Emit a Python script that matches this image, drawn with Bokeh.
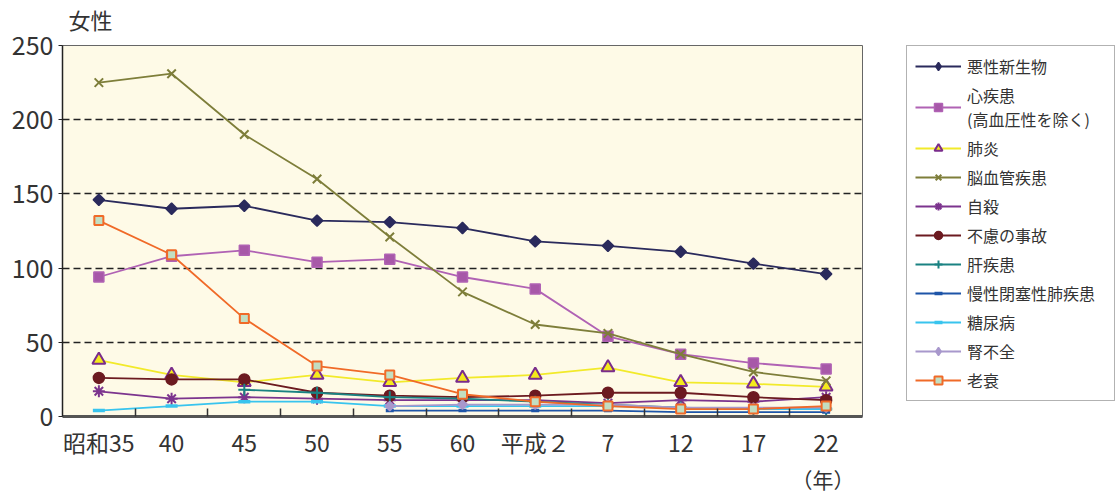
import math
from bokeh.plotting import figure
from bokeh.layouts import row
from bokeh.models import Range1d, FixedTicker, Legend, LegendItem, Title
from bokeh.embed import file_html
from bokeh.resources import INLINE

# Survey years (Showa 35 ... Heisei 22)
years = ["昭和35", "40", "45", "50", "55", "60", "平成２", "7", "12", "17", "22"]

# Female death rates by cause (per 100,000)
malignant = [146, 140, 142, 132, 131, 127, 118, 115, 111, 103, 96]
heart = [94, 108, 112, 104, 106, 94, 86, 54, 42, 36, 32]
pneumonia = [38, 28, 23, 28, 23, 26, 28, 33, 23, 22, 20]
stroke = [225, 231, 190, 160, 121, 84, 62, 56, 42, 30, 24]
suicide = [17, 12, 13, 12, 11, 11, 11, 9, 11, 10, 13]
accident = [26, 25, 25, 16, 14, 13, 14, 16, 16, 13, 11]
liver = [18, 16, 13, 12, 10, 8, 6, 5, 5]          # from 昭和45
copd = [4, 4, 4, 4, 3, 3, 3]                       # from 昭和55
diabetes = [4, 7, 10, 10, 7, 7, 7, 7, 6, 5, 5]
renal = [7, 8, 8, 8, 6, 6, 6]                      # from 昭和55
senility = [132, 109, 66, 34, 28, 15, 10, 7, 5, 5, 7]

FONT = "Noto Sans CJK JP"
TXT = "#333333"

xs = [i + 0.5 for i in range(len(years))]

p = figure(width=906, height=493, output_backend="svg", toolbar_location=None,
           x_range=Range1d(0, len(years)), y_range=Range1d(0, 250),
           min_border_left=62, min_border_right=44, min_border_top=45,
           min_border_bottom=66)
p.background_fill_color = "#FEFAE7"
p.border_fill_color = "white"
p.outline_line_color = "#666666"
p.outline_line_width = 1

p.title.text = "女性"
p.title.text_font = FONT
p.title.text_font_size = "22px"
p.title.text_font_style = "normal"
p.title.text_color = TXT
p.title.offset = 6
p.title.standoff = 0

# thin blank strip between the frame and the title
p.add_layout(Title(text=" ", text_font_size="8px", standoff=0), "above")

# x axis: labels at category centres, tick marks between categories
xa = p.xaxis[0]
xa.ticker = FixedTicker(ticks=xs, minor_ticks=list(range(1, len(years))))
xa.major_label_overrides = {x: lab for x, lab in zip(xs, years)}
xa.major_tick_in = 0
xa.major_tick_out = 0
xa.minor_tick_in = 8
xa.minor_tick_out = 0
xa.minor_tick_line_color = "#333333"
xa.minor_tick_line_width = 1.5
xa.axis_line_color = "#555555"
xa.axis_line_width = 3
xa.major_label_text_font = FONT
xa.major_label_text_font_size = "23px"
xa.major_label_text_color = TXT
xa.major_label_standoff = 8

ya = p.yaxis[0]
ya.ticker = FixedTicker(ticks=[0, 50, 100, 150, 200, 250])
ya.major_tick_in = 0
ya.major_tick_out = 4
ya.minor_tick_line_color = None
ya.axis_line_color = "#222222"
ya.axis_line_width = 1.5
ya.major_tick_line_color = "#222222"
ya.major_label_text_font = FONT
ya.major_label_text_font_size = "25px"
ya.major_label_text_color = TXT
ya.major_label_standoff = 5

p.xgrid.visible = False
p.ygrid.ticker = FixedTicker(ticks=[50, 100, 150, 200])
p.ygrid.grid_line_color = "#222222"
p.ygrid.grid_line_dash = "7 4"
p.ygrid.grid_line_width = 1.5

p.add_layout(Title(text="（年）", align="right", text_font=FONT,
                   text_font_size="21px", text_font_style="normal",
                   text_color=TXT, offset=8, standoff=0), "below")

# Side panel holding the legend. Its proxy renderers carry each series but sit
# outside the panel's visible range, so only their legend samples show.
key = figure(width=209, height=493, output_backend="svg", toolbar_location=None,
             x_range=Range1d(-2, -1), y_range=Range1d(-2, -1),
             min_border_left=0, min_border_right=0, min_border_top=42,
             min_border_bottom=0)
key.axis.visible = False
key.grid.visible = False
key.outline_line_color = None
key.background_fill_color = "white"
key.border_fill_color = "white"

items = []
DIAG = math.pi / 4


def series(label, x, y, color, marker, size, fill=None, mline=None,
           lw=1.8, mlw=1.5, angle=0.0, key_marker=None, key_size=None):
    style = dict(marker=marker, size=size, angle=angle,
                 fill_color=fill if fill else color,
                 line_color=mline if mline else color, line_width=mlw)
    p.line(x, y, line_color=color, line_width=lw)
    p.scatter(x, y, **style)
    ln = key.line(x, y, line_color=color, line_width=lw)
    kstyle = dict(style, size=key_size if key_size else size * 0.85)
    if key_marker:
        kstyle.update(marker=key_marker, angle=0.0)
    sc = key.scatter(x, y, **kstyle)
    items.append(LegendItem(label=label, renderers=[ln, sc]))


series("悪性新生物", xs, malignant, "#2A2A5C", "square", 8, angle=DIAG,
       key_marker="diamond", key_size=12)
series("心疾患\n(高血圧性を除く)", xs, heart, "#B062B4", "square", 10, fill="#A758A8")
series("肺炎", xs, pneumonia, "#F2EA2A", "triangle", 13, fill="#F4EA1C", mline="#7A2C8C", mlw=2)
series("脳血管疾患", xs, stroke, "#7E7E3A", "x", 12, mlw=2)
series("自殺", xs, suicide, "#7C348E", "asterisk", 12, mlw=2)
series("不慮の事故", xs, accident, "#6C1A20", "circle", 11)
series("肝疾患", xs[2:], liver, "#1A8282", "cross", 12, mlw=2)
series("慢性閉塞性肺疾患", xs[4:], copd, "#1E55A8", "dash", 8, mlw=3.5)
series("糖尿病", xs, diabetes, "#38C4EE", "dash", 12, mlw=3.5)
series("腎不全", xs[4:], renal, "#A898CC", "square", 6.5, angle=DIAG,
       key_marker="diamond", key_size=10)
series("老衰", xs, senility, "#F06A28", "square", 9, fill="#C2DEC2", mline="#F06A28", mlw=2)

legend = Legend(items=items, location="top_left", margin=0, padding=8,
                spacing=5, glyph_width=46, glyph_height=20, label_standoff=6,
                label_width=139,
                label_text_font=FONT, label_text_font_size="16px",
                label_text_color=TXT, border_line_color="#666666",
                border_line_width=1, background_fill_color="white",
                background_fill_alpha=1)
key.add_layout(legend, "center")

open("out.html", "w").write(file_html(row(p, key), INLINE))
